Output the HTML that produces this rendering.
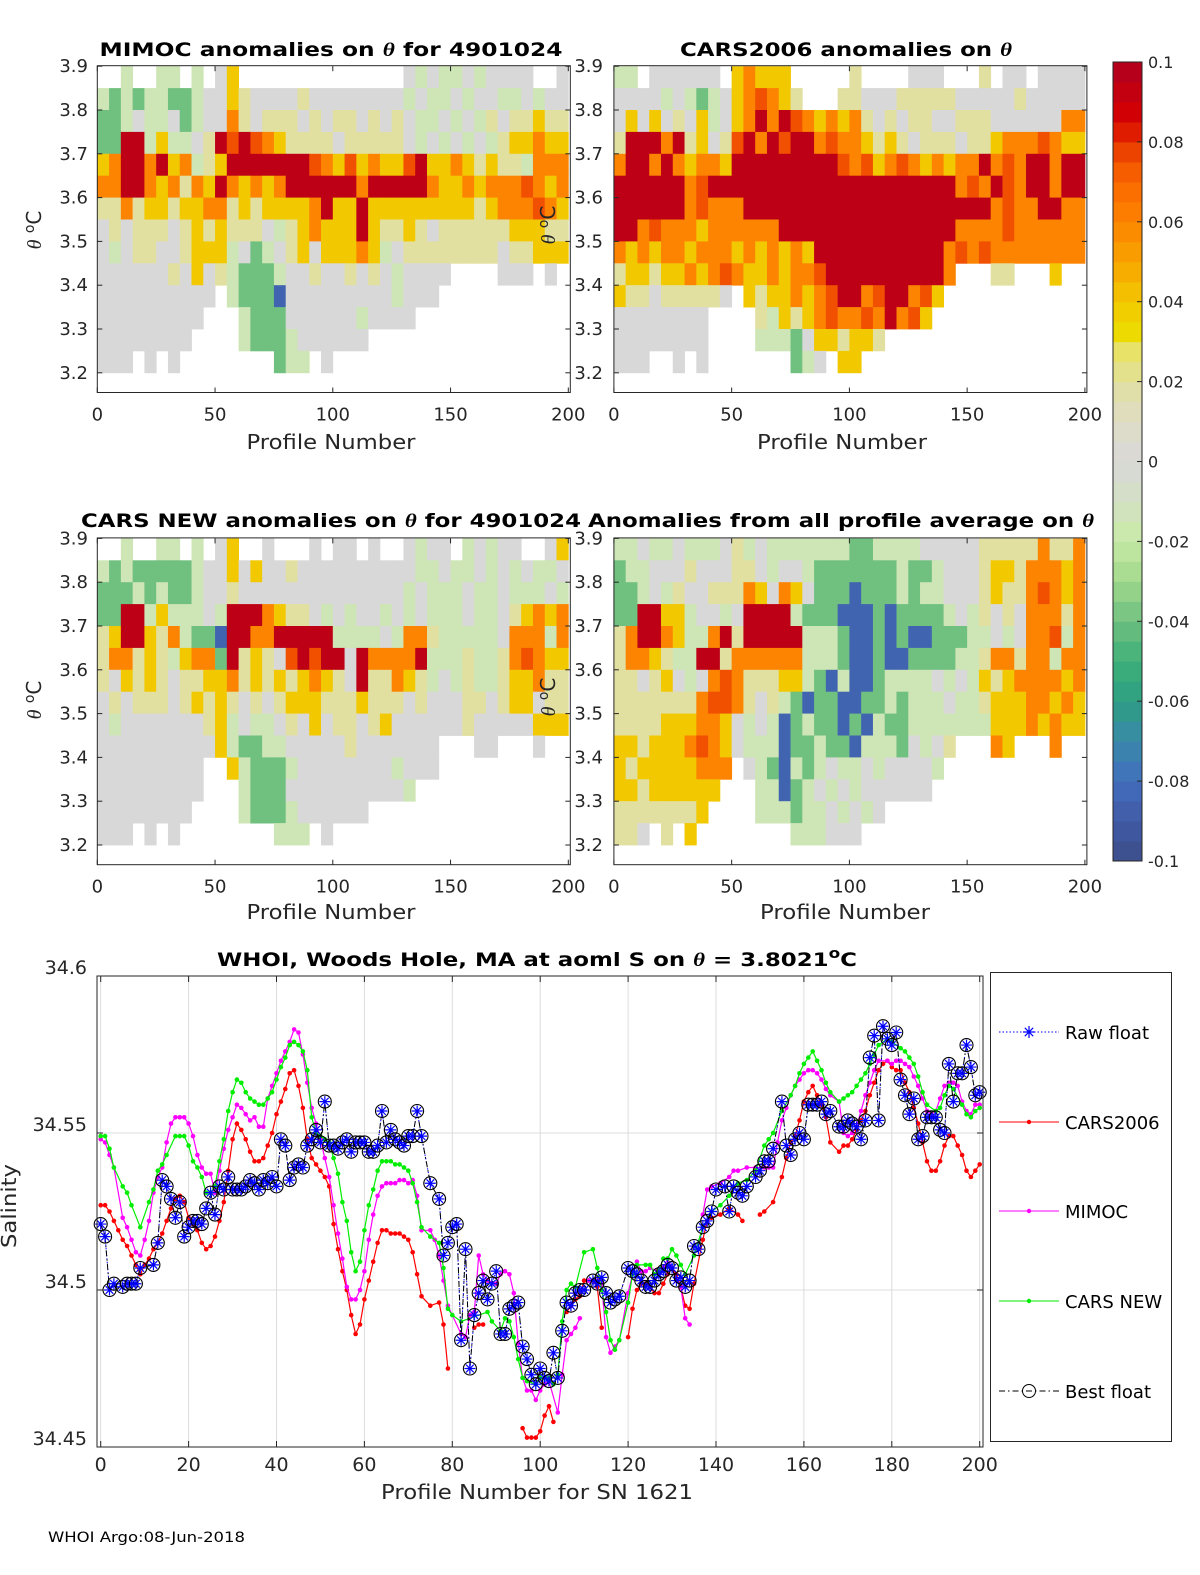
<!DOCTYPE html>
<html><head><meta charset="utf-8">
<style>
html,body{margin:0;padding:0;background:#fff;}
svg{display:block;font-family:"DejaVu Sans","Liberation Sans",sans-serif;}
</style></head>
<body>
<svg id="fig" width="1200" height="1575" viewBox="0 0 1200 1575" xmlns="http://www.w3.org/2000/svg">
<rect x="0" y="0" width="1200" height="1575" fill="#fff"/>
<g id="heat"></g>
<g id="bottom"></g>
<g id="texts" fill="#262626">
<text x="331" y="56" text-anchor="middle" font-weight="bold" font-size="19" textLength="463" lengthAdjust="spacingAndGlyphs" fill="#000">MIMOC anomalies on <tspan font-family="Liberation Serif,serif" font-style="italic">θ</tspan>  for 4901024</text>
<text x="846" y="56" text-anchor="middle" font-weight="bold" font-size="19" textLength="332" lengthAdjust="spacingAndGlyphs" fill="#000">CARS2006 anomalies on <tspan font-family="Liberation Serif,serif" font-style="italic">θ</tspan></text>
<text x="331" y="527" text-anchor="middle" font-weight="bold" font-size="19" textLength="500" lengthAdjust="spacingAndGlyphs" fill="#000">CARS NEW anomalies on <tspan font-family="Liberation Serif,serif" font-style="italic">θ</tspan> for 4901024</text>
<text x="841" y="527" text-anchor="middle" font-weight="bold" font-size="19" textLength="506" lengthAdjust="spacingAndGlyphs" fill="#000">Anomalies from all profile average on <tspan font-family="Liberation Serif,serif" font-style="italic">θ</tspan></text>
<text x="537" y="966" text-anchor="middle" font-weight="bold" font-size="19" textLength="640" lengthAdjust="spacingAndGlyphs" fill="#000">WHOI, Woods Hole, MA at aoml S on <tspan font-family="Liberation Serif,serif" font-style="italic">θ</tspan> = 3.8021<tspan dy="-8" font-size="14">o</tspan><tspan dy="8">C</tspan></text>
<text x="331" y="449" text-anchor="middle" font-size="20" textLength="169" lengthAdjust="spacingAndGlyphs">Profile Number</text>
<text x="842" y="449" text-anchor="middle" font-size="20" textLength="170" lengthAdjust="spacingAndGlyphs">Profile Number</text>
<text x="331" y="919" text-anchor="middle" font-size="20" textLength="169" lengthAdjust="spacingAndGlyphs">Profile Number</text>
<text x="845" y="919" text-anchor="middle" font-size="20" textLength="170" lengthAdjust="spacingAndGlyphs">Profile Number</text>
<text transform="translate(41,230) rotate(-90)" text-anchor="middle" font-size="20"><tspan font-family="Liberation Serif,serif" font-style="italic">θ</tspan> <tspan dy="-7" font-size="14">o</tspan><tspan dy="7">C</tspan></text>
<text transform="translate(555,225) rotate(-90)" text-anchor="middle" font-size="20"><tspan font-family="Liberation Serif,serif" font-style="italic">θ</tspan> <tspan dy="-7" font-size="14">o</tspan><tspan dy="7">C</tspan></text>
<text transform="translate(41,700) rotate(-90)" text-anchor="middle" font-size="20"><tspan font-family="Liberation Serif,serif" font-style="italic">θ</tspan> <tspan dy="-7" font-size="14">o</tspan><tspan dy="7">C</tspan></text>
<text transform="translate(555,697) rotate(-90)" text-anchor="middle" font-size="20"><tspan font-family="Liberation Serif,serif" font-style="italic">θ</tspan> <tspan dy="-7" font-size="14">o</tspan><tspan dy="7">C</tspan></text>
<text transform="translate(16,1206) rotate(-90)" text-anchor="middle" font-size="20" textLength="84" lengthAdjust="spacingAndGlyphs">Salinity</text>
<text x="537" y="1499" text-anchor="middle" font-size="20" textLength="312" lengthAdjust="spacingAndGlyphs">Profile Number for SN 1621</text>
<text x="48" y="1542" font-size="14" textLength="197" lengthAdjust="spacingAndGlyphs" fill="#000">WHOI Argo:08-Jun-2018</text>
</g>
</svg>
<script>
// ---------- heatmap data: one string per theta row (3.9 -> 3.15), 40 columns of 5 profiles ----------
const thetaTicks = [3.2,3.3,3.4,3.5,3.6,3.7,3.8,3.9];
const profileTicks = [0,50,100,150,200];
const codeValues = {B:-0.085,b:-0.06,G:-0.04,g:-0.015,'0':0,y:0.02,Y:0.04,o:0.06,O:0.075,R:0.095};
const mimocRows = [
"..g..gg.g.0Y..............0g0gg0g0000..0",
"gGgGggGGg00Yy0000y00000000g0gg0g00gg0g00",
"GGg0gg0Gg00oy0yyy0y0yy0y0y0gg0g0gy0yyYyy",
"GGRRgYgg0yROROoYyyyy0yyyyy0g0g0g0gyYYoYY",
"YoRRoRYogyYRRRRRRROoYOYoYYORYYoYyYyygooo",
"ooRRoYoyoYRoYoYoRRRRRRoRRRRRoYYoYoooOoYo",
"yyoyYYyYYooyYyYYYYoRYYRYYYYYYYYYyYoooOoY",
"0y0yyy0yYyYyyy0gyYoYYYRYyyYy0yyyyyyYYYyy",
"0g0yy00yYYYg0Gg0yY0YYYoYg0yyyyyyyy0yyYYY",
"000000y0Y0ygGGGg00y00y0y0g0000....000.0.",
"0000000000.gGGGB000000000g000...........",
"000000000...gGGG000000g0000.............",
"00000000....gGGGg000000.................",
"000.0.0........Ggg.0....................",
"........................................"];
const cars2006Rows = [
"gg.000000.YoYYY.....y....000...y.00.0000",
"0000g0gGg0YoOoYy...yy000yyyyy00000y00000",
"0Y0Y0y0Yg0YoRoROoYoYoy0y0yy00yyy000000oo",
"yRRRoRyY0yORoRORRoOooYyYy0yyy0yyYoooOoYY",
"oRRoRoYooYRRRRRRRRROoOYoOoYoYooRoOoRRoRR",
"RRRRRRoORRRRRRRRRRRRRRRRRRRRRoOoROoRRoRR",
"RRRRRRoOoooRRRRRRRRRRRRRRRRRRRRRoOooRRoo",
"RRoOoooYooooooRRRRRRRRRRRRRRRooooOoooooo",
"oYoYooYoooYoYoYoYRRRRRRRRRRRoOoOoooooooo",
"yYYyYYoYoOoYYoYooORRRRRRRRRRo...yy...Y..",
"Yyy0yyyyy0.YyYYoYoORRoORRoOY............",
"00000000....ygYyYoOooOoRoOY.............",
"00000000....gggG0YYyYYy.................",
"000..0.0.......Gg0.YY...................",
"........................................"];
const carsNewRows = [
"..g..gg.g.0Y..0...0.00.0..0g00.g0g00..0Y",
"gGgGGGGGg00Y0Y00y0000000000gg0gg0g0g0gg0",
"GGGgGgGGg00y00000000000000g0ggg0gg0ggg0g",
"GGRRgYggg0gRRRoYyy0g0g00g0g0ggg0gg0yYoYo",
"yYRRYyogGGBRRooRRRRRgggg0gooyggggg0ooogo",
"yooyYygYooGRyYy0ORORR0RooooRgggyggyoOoYY",
"y0YyYy0yyYYoyYyYyYoYy0RyyoYyg0gyggyYYoyy",
"0y0yyy0yYyYy0y0yYYYyyyYyyy0y000yy0yYY0yy",
"0g0000000yYg0gg0y0Y0yy0yY000000y00000YYY",
"0000000000YgGGgg00000y0000000...00...0..",
"000000000..YgGGGg00000000g000...........",
"000000000...gGGG0000000000g.............",
"00000000....gGGGg000000.................",
"000.0.0........ggg.0....................",
"........................................"];
const averageRows = [
"gg0gg0ggg0yg0gggggggGGgggg00000yyyyyoyyo",
"Ggg000y000yy0g00gGGGGGGGgGGg000yYYyoooYo",
"GGg0gy00yyyoY0oY0GGGBGGGgGgg000yYyyoOoYo",
"GGRRYYg00g0RRRRgGGGBBBGBGGGGg0gy0y0oooyo",
"yoRRoYggoRyRRRRRgggGBBGBGBBGGGgg0g0ooOgo",
"yooYyggRRyoooooogggGBBGBBGGGGggyooyoogoo",
"yy0yY0g0oOoyyyYYgGBgBBGgggg0g0gYyYooooYo",
"yyyyyyyoOOoy0ygGBGGBBGGgGggg0ggyYYYooYoY",
"yyyyYYYooY0g0gBGgGGBGBgGGgggggggYYYoYoYY",
"YYyYYYoOoY0gggBGGgGGBgggG0g0y...oY...o..",
"YyYYYYYooo.0gGBgGg0gg0g0000g............",
"YYyYYYYYY...ggBGg0g0g000000.............",
"yyyyyyyY....gggGgg0g0g0.................",
"yy0.y.Y........ggg000..................",
"........................................"];
const colorbarTicks = [-0.1,-0.08,-0.06,-0.04,-0.02,0,0.02,0.04,0.06,0.08,0.1];

// ---------- salinity series (profile, salinity); null = gap ----------
const greenP = [0,1,2,3,5,6,7,9,11,12,13,14,15,17,18,19,20,21,22,23,24,25,26,27,28,29,30,31,32,33,34,35,36,37,38,39,40,41,42,43,44,45,46,47,48,49,50,51,52,53,54,55,56,57,58,59,60,61,62,63,64,65,66,67,68,69,70,71,72,73,75,77,78,79,80,82,88,89,91,92,93,94,95,96,97,99,100,102,103,104,105,106,107,108,110,112,113,114,115,116,117,118,120,121,122,124,125,126,127,128,129,130,131,132,133,135,137,139,141,143,145,147,149,151,152,153,155,157,158,159,160,161,162,163,164,165,166,168,169,170,171,172,173,174,175,176,177,179,180,182,183,184,185,186,187,188,190,191,192,193,194,196,197,198,199,200];
const greenS = [34.549,34.549,34.545,34.539,34.533,34.531,34.527,34.520,34.528,34.532,34.538,34.540,34.543,34.549,34.549,34.549,34.546,34.541,34.539,34.536,34.531,34.531,34.533,34.541,34.548,34.557,34.563,34.567,34.566,34.563,34.561,34.560,34.559,34.559,34.561,34.563,34.567,34.571,34.574,34.578,34.579,34.578,34.576,34.570,34.555,34.550,34.549,34.548,34.547,34.542,34.537,34.528,34.522,34.512,34.506,34.509,34.519,34.527,34.532,34.538,34.541,34.541,34.541,34.540,34.540,34.539,34.538,34.534,34.528,34.520,34.517,34.515,34.507,34.494,34.492,34.490,34.493,34.490,34.487,34.491,34.490,34.485,34.478,34.472,34.471,34.470,34.472,34.472,34.470,34.473,34.490,34.500,34.502,34.501,34.512,34.513,34.507,34.500,34.493,34.484,34.481,34.484,34.496,34.505,34.508,34.508,34.508,34.505,34.506,34.510,34.510,34.513,34.511,34.508,34.505,34.511,34.520,34.525,34.527,34.530,34.534,34.535,34.538,34.546,34.548,34.550,34.557,34.562,34.565,34.569,34.572,34.574,34.576,34.573,34.570,34.566,34.563,34.560,34.561,34.562,34.563,34.565,34.567,34.569,34.572,34.575,34.578,34.580,34.579,34.577,34.576,34.574,34.572,34.568,34.563,34.559,34.557,34.558,34.562,34.565,34.564,34.559,34.556,34.555,34.557,34.558];

const magentaP = [0,1,2,3,5,6,7,8,9,10,11,12,13,14,15,16,17,18,19,20,21,22,23,24,25,26,27,28,29,30,31,32,33,34,35,36,37,38,39,40,41,42,43,44,45,46,47,48,49,50,51,52,53,54,55,56,57,58,59,60,61,62,63,64,65,66,67,68,69,70,71,72,73,75,76,77,78,79,82,83,84,85,86,87,88,90,91,92,93,94,95,96,97,98,99,100,101,102,104,105,106,107,108,109,110,111,113,114,115,116,117,118,120,121,122,123,124,125,127,128,129,130,131,132,133,134,135,137,138,139,141,143,144,145,147,149,151,152,153,154,155,156,157,158,159,160,161,162,163,164,165,166,168,169,170,171,172,173,174,175,176,177,179,180,181,182,183,184,185,186,187,188,189,190,191,192,193,194,195,196,197,198,199,200];
const magentaS = [34.548,34.547,34.543,34.539,34.523,34.520,34.516,34.512,34.511,34.516,34.522,34.531,34.536,34.539,34.547,34.553,34.555,34.555,34.555,34.553,34.549,34.543,34.539,34.537,34.537,34.531,34.538,34.545,34.551,34.555,34.559,34.558,34.556,34.554,34.555,34.552,34.552,34.561,34.565,34.569,34.573,34.576,34.579,34.583,34.582,34.575,34.566,34.558,34.553,34.548,34.542,34.536,34.527,34.518,34.510,34.501,34.497,34.497,34.500,34.506,34.516,34.524,34.530,34.533,34.534,34.534,34.534,34.535,34.535,34.534,34.535,34.530,34.519,34.519,34.516,34.511,34.503,34.495,34.486,34.485,34.492,34.493,34.511,34.505,34.503,34.502,34.505,34.506,34.505,34.499,34.483,34.472,34.468,34.468,34.465,34.468,34.470,34.471,34.461,34.473,34.484,34.486,34.488,34.491,null,34.503,34.503,34.502,34.485,34.480,34.482,34.484,34.499,34.505,34.509,34.506,34.506,34.507,34.506,34.507,34.510,34.507,34.503,34.501,34.491,34.489,null,34.524,34.532,34.533,34.534,34.536,34.538,34.538,34.539,34.539,34.539,34.539,34.539,34.547,34.554,34.558,34.562,34.565,34.567,34.569,34.570,34.570,34.569,34.567,34.564,34.562,34.560,34.550,34.549,34.550,34.552,34.557,34.562,34.566,34.570,34.573,34.573,34.572,34.573,34.573,34.572,34.571,34.568,34.565,34.561,34.557,34.556,34.557,34.561,34.565,34.566,34.566,34.565,34.560,34.557,34.556,34.559,34.559];

const redP = [0,1,2,3,4,5,6,7,8,9,10,11,12,13,14,15,16,17,18,19,20,21,22,23,24,25,26,27,28,29,30,31,32,33,34,35,36,37,38,39,40,41,42,43,44,45,46,47,48,49,50,51,52,53,54,55,56,57,58,59,60,61,62,63,64,65,66,67,68,69,70,71,72,73,75,77,78,79,80,85,86,87,88,96,97,98,99,100,101,102,103,104,106,107,108,109,110,111,112,113,114,115,120,121,122,123,124,125,126,127,128,129,130,131,132,133,134,135,137,138,139,141,143,145,146,147,150,151,153,155,156,157,158,159,160,161,162,163,164,165,166,168,169,170,171,172,173,174,175,176,177,178,179,180,181,182,183,184,185,186,187,188,189,190,191,192,193,194,195,196,197,198,199,200];
const redS = [34.527,34.527,34.525,34.522,34.519,34.516,34.514,34.511,34.508,34.505,34.508,34.510,34.513,34.515,34.518,34.522,34.526,34.529,34.530,34.528,34.523,34.521,34.519,34.515,34.513,34.514,34.517,34.522,34.528,34.538,34.548,34.553,34.551,34.548,34.544,34.541,34.541,34.542,34.546,34.550,34.556,34.560,34.564,34.569,34.570,34.565,34.558,34.548,34.542,34.540,34.538,34.536,34.533,34.521,34.513,34.506,34.500,34.492,34.486,34.489,34.497,34.503,34.509,34.515,34.519,34.519,34.518,34.518,34.518,34.517,34.516,34.512,34.505,34.498,34.495,34.496,34.489,34.475,null,34.488,34.489,34.489,null,34.456,34.453,34.453,34.453,34.455,34.460,34.463,34.458,null,34.493,34.495,34.497,34.498,34.503,34.503,34.503,34.501,34.488,null,34.485,34.494,34.500,34.502,34.502,34.501,34.499,34.499,34.502,34.505,34.507,34.505,34.501,34.495,34.494,34.502,34.516,34.522,34.523,34.524,34.526,34.524,34.522,null,34.524,34.525,34.528,34.536,34.542,34.547,34.549,34.554,34.560,34.563,34.565,34.562,34.559,34.555,34.547,34.544,34.546,34.546,34.548,34.551,34.554,34.557,34.562,34.566,34.570,34.572,34.573,34.571,34.570,34.570,34.566,34.563,34.558,34.553,34.547,34.541,34.538,34.538,34.541,34.546,34.549,34.549,34.546,34.543,34.538,34.536,34.538,34.540];

const floatP = [0,1,2,3,5,6,7,8,9,12,13,14,15,16,17,18,19,20,21,22,23,24,25,26,27,28,29,30,31,32,33,34,35,36,37,38,39,40,41,42,43,44,45,46,47,48,49,50,51,52,53,54,55,56,57,58,59,60,61,62,63,64,65,66,67,68,69,70,71,72,73,75,77,78,79,80,81,82,83,84,85,86,87,88,89,90,91,92,93,94,95,96,97,98,99,100,101,102,103,104,105,106,107,108,109,110,112,113,114,115,116,117,118,120,121,122,123,124,125,126,127,128,129,130,131,132,133,134,135,136,137,138,139,140,142,143,144,145,146,147,149,150,151,152,153,155,156,157,158,159,160,161,162,163,164,165,166,168,169,170,171,172,173,174,175,176,177,178,179,180,181,182,183,184,185,186,187,188,189,190,191,192,193,194,195,196,197,198,199,200];
const floatS = [34.521,34.517,34.500,34.502,34.501,34.502,34.502,34.502,34.507,34.508,34.515,34.535,34.533,34.529,34.523,34.528,34.517,34.520,34.522,34.522,34.521,34.526,34.531,34.524,34.533,34.532,34.536,34.532,34.532,34.532,34.533,34.535,34.534,34.532,34.535,34.534,34.536,34.533,34.548,34.546,34.535,34.539,34.540,34.539,34.546,34.548,34.551,34.547,34.560,34.546,34.546,34.545,34.547,34.548,34.544,34.547,34.547,34.547,34.544,34.544,34.546,34.557,34.547,34.551,34.548,34.547,34.546,34.549,34.549,34.557,34.549,34.534,34.529,34.511,34.515,34.520,34.521,34.484,34.513,34.475,34.492,34.499,34.503,34.497,34.502,34.506,34.486,34.486,34.494,34.495,34.496,34.482,34.478,34.473,34.470,34.475,34.472,34.471,34.480,34.472,34.487,34.496,34.495,34.499,34.500,34.500,34.503,34.502,34.504,34.499,34.496,34.497,34.498,34.507,34.506,34.505,34.503,34.501,34.501,34.503,34.505,34.506,34.508,34.507,34.503,34.504,34.501,34.503,34.514,34.513,34.520,34.522,34.525,34.532,34.533,34.525,34.533,34.531,34.530,34.533,34.536,34.538,34.541,34.541,34.545,34.560,34.546,34.543,34.548,34.550,34.548,34.559,34.559,34.559,34.560,34.556,34.557,34.552,34.552,34.554,34.553,34.552,34.548,34.554,34.574,34.581,34.554,34.584,34.580,34.578,34.582,34.567,34.562,34.556,34.561,34.548,34.549,34.555,34.555,34.555,34.551,34.550,34.572,34.560,34.569,34.569,34.578,34.571,34.562,34.563];
const salTicks = [34.45,34.5,34.55,34.6];
const salXTicks = [0,20,40,60,80,100,120,140,160,180,200];

// ---------- helpers ----------
const NS = 'http://www.w3.org/2000/svg';
function mk(tag, attrs, parent){
  const e = document.createElementNS(NS, tag);
  for (const k in attrs) e.setAttribute(k, attrs[k]);
  if (parent) parent.appendChild(e);
  return e;
}
const stops = [[-0.1,[60,76,136]],[-0.09,[64,90,165]],[-0.08,[66,110,190]],[-0.07,[56,136,170]],[-0.06,[46,158,130]],[-0.05,[62,176,120]],[-0.04,[112,192,128]],[-0.03,[160,216,140]],[-0.02,[200,234,165]],[-0.01,[212,224,196]],[0,[216,216,216]],[0.01,[222,220,196]],[0.02,[226,224,160]],[0.028,[232,226,100]],[0.03,[234,224,0]],[0.04,[242,200,0]],[0.05,[248,164,0]],[0.06,[252,132,0]],[0.07,[250,104,0]],[0.08,[232,56,0]],[0.085,[214,0,0]],[0.1,[176,0,32]]];
function cmap(v){
  v = Math.max(-0.1, Math.min(0.1, v));
  for (let i=0;i<stops.length-1;i++){
    const a=stops[i], b=stops[i+1];
    if (v>=a[0] && v<=b[0]){
      const t=(v-a[0])/(b[0]-a[0]);
      const c=a[1].map((x,j)=>Math.round(x+(b[1][j]-x)*t));
      return 'rgb('+c.join(',')+')';
    }
  }
  return 'rgb(176,0,32)';
}

// ---------- heatmap panels ----------
const heat = document.getElementById('heat');
const panels = [
  {name:'mimoc', rows:mimocRows, x0:97.3, y0:66.2, lab:88},
  {name:'cars2006', rows:cars2006Rows, x0:613.9, y0:66.2, lab:603},
  {name:'cars-new', rows:carsNewRows, x0:97.3, y0:538.4, lab:88},
  {name:'average', rows:averageRows, x0:613.9, y0:538.4, lab:603}
];
const PXP = 2.355, PXT = 438, PW = 473, THMIN = 3.155;
panels.forEach(pn=>{
  const xs = p => pn.x0 + p*PXP;
  const ys = th => pn.y0 + (3.9-th)*PXT;
  const g = mk('g', {}, heat);
  
  
  pn.rows.forEach((row, r)=>{
    const thTop = 3.9 - 0.05*r;
    const thBot = Math.max(THMIN, thTop - 0.05);
    for (let k=0;k<40;k++){
      const ch = row[k];
      if (!ch || ch==='.' || codeValues[ch]===undefined) continue;
      const x1 = xs(5*k), x2 = xs(Math.min(5*k+5, 200.8));
      const cell = mk('rect', {x:x1.toFixed(2), y:ys(thTop).toFixed(2), width:(x2-x1+0.4).toFixed(2), height:(ys(thBot)-ys(thTop)+0.4).toFixed(2), fill:cmap(codeValues[ch])}, g);
      
      
    }
  });
  const box = mk('rect', {x:pn.x0, y:pn.y0-0.5, width:PW, height:(ys(THMIN)-pn.y0+0.5).toFixed(1), fill:'none', stroke:'#262626', 'stroke-width':1}, heat);
  
  
  const bottom = ys(THMIN);
  thetaTicks.forEach(t=>{
    const y = ys(t);
    mk('line', {x1:pn.x0, x2:pn.x0+5, y1:y, y2:y, stroke:'#262626'}, heat);
    mk('line', {x1:pn.x0+PW-5, x2:pn.x0+PW, y1:y, y2:y, stroke:'#262626'}, heat);
    const tx = mk('text', {x:pn.lab, y:y+6, 'text-anchor':'end', 'font-size':18, fill:'#262626'}, heat);
    
    
    tx.textContent = t.toFixed(1);
  });
  profileTicks.forEach(p=>{
    const x = xs(p);
    mk('line', {x1:x, x2:x, y1:bottom, y2:bottom-5, stroke:'#262626'}, heat);
    mk('line', {x1:x, x2:x, y1:pn.y0, y2:pn.y0+5, stroke:'#262626'}, heat);
    const tx = mk('text', {x:x, y:bottom+28, 'text-anchor':'middle', 'font-size':18, fill:'#262626'}, heat);
    
    
    tx.textContent = p;
  });
});

// ---------- colorbar ----------
const CBX = 1113, CBW = 29, CBT = 62, CBB = 861;
const cbY = v => CBB - (v+0.1)/0.2*(CBB-CBT);
const cbg = mk('g', {}, heat);


for (let i=0;i<40;i++){
  const v0 = -0.1 + i*0.005;
  mk('rect', {x:CBX, y:cbY(v0+0.005).toFixed(2), width:CBW, height:((CBB-CBT)/40+0.5).toFixed(2), fill:cmap(v0+0.0025)}, cbg);
}
mk('rect', {x:CBX, y:CBT, width:CBW, height:CBB-CBT, fill:'none', stroke:'#262626'}, cbg);
colorbarTicks.forEach(v=>{
  const y = cbY(v);
  mk('line', {x1:CBX+CBW-5, x2:CBX+CBW, y1:y, y2:y, stroke:'#262626'}, cbg);
  const tx = mk('text', {x:1148, y:y+6, 'font-size':16, fill:'#262626'}, cbg);
  
  
  tx.textContent = (Math.abs(v)<1e-9) ? '0' : String(+v.toFixed(2));
});

// ---------- salinity chart ----------
const bot = document.getElementById('bottom');
const BX0 = 97, BX1 = 983, BY0 = 976, BY1 = 1447;
const sx = p => 100.7 + p*4.395;
const sy = s => 976 + (34.6 - s)*3140;
salXTicks.forEach(p=>{
  const x = sx(p);
  mk('line', {x1:x, x2:x, y1:BY0, y2:BY1, stroke:'#dcdcdc'}, bot);
  mk('line', {x1:x, x2:x, y1:BY1, y2:BY1-6, stroke:'#262626'}, bot);
  mk('line', {x1:x, x2:x, y1:BY0, y2:BY0+6, stroke:'#262626'}, bot);
  const tx = mk('text', {x:x, y:BY1+24, 'text-anchor':'middle', 'font-size':19, fill:'#262626'}, bot);
  
  
  tx.textContent = p;
});
salTicks.forEach(s=>{
  const y = sy(s);
  mk('line', {x1:BX0, x2:BX1, y1:y, y2:y, stroke:'#dcdcdc'}, bot);
  mk('line', {x1:BX0, x2:BX0+6, y1:y, y2:y, stroke:'#262626'}, bot);
  mk('line', {x1:BX1-6, x2:BX1, y1:y, y2:y, stroke:'#262626'}, bot);
  const tx = mk('text', {x:87, y:y-2, 'text-anchor':'end', 'font-size':19, fill:'#262626'}, bot);
  
  
  tx.textContent = String(s);
});
function pathFrom(P, S){
  let d = '', pen = false;
  for (let i=0;i<P.length;i++){
    if (S[i]===null){ pen=false; continue; }
    d += (pen?'L':'M') + sx(P[i]).toFixed(1) + ' ' + sy(S[i]).toFixed(1);
    pen = true;
  }
  return d;
}
function dotSeries(name, P, S, color){
  const g = mk('g', {}, bot);
  
  
  mk('path', {d:pathFrom(P,S), fill:'none', stroke:color, 'stroke-width':1.2}, g);
  for (let i=0;i<P.length;i++){
    if (S[i]===null) continue;
    const c = mk('circle', {cx:sx(P[i]).toFixed(1), cy:sy(S[i]).toFixed(1), r:2.3, fill:color}, g);
    
    
  }
}
dotSeries('cars2006-series', redP, redS, '#ff0000');
dotSeries('mimoc-series', magentaP, magentaS, '#ff00ff');
dotSeries('cars-new-series', greenP, greenS, '#00ee00');
const fg = mk('g', {}, bot);


mk('path', {d:pathFrom(floatP,floatS), fill:'none', stroke:'#0000ff', 'stroke-width':1, 'stroke-dasharray':'1.5 2'}, fg);
mk('path', {d:pathFrom(floatP,floatS), fill:'none', stroke:'#000', 'stroke-width':1, 'stroke-dasharray':'6 3 1.5 3'}, fg);
function starMarker(parent, x, y, r){
  const d = `M${x-r} ${y}L${x+r} ${y}M${x} ${y-r}L${x} ${y+r}M${x-r*0.7} ${y-r*0.7}L${x+r*0.7} ${y+r*0.7}M${x-r*0.7} ${y+r*0.7}L${x+r*0.7} ${y-r*0.7}`;
  return mk('path', {d:d, stroke:'#0000ff', 'stroke-width':1.2, fill:'none'}, parent);
}
for (let i=0;i<floatP.length;i++){
  const x = sx(floatP[i]), y = sy(floatS[i]);
  const c = mk('circle', {cx:x.toFixed(1), cy:y.toFixed(1), r:6.5, fill:'none', stroke:'#000', 'stroke-width':1.1}, fg);
  
  
  const s = starMarker(fg, x, y, 5.5);
  
  
}
const sbox = mk('rect', {x:BX0, y:BY0, width:BX1-BX0, height:BY1-BY0, fill:'none', stroke:'#262626'}, bot);



// ---------- legend ----------
const lg = mk('g', {}, bot);


mk('rect', {x:990.5, y:972.5, width:181, height:469, fill:'#fff', stroke:'#262626'}, lg);
const legendNames = ['Raw float','CARS2006','MIMOC','CARS NEW','Best float'];
const legendY = [1032,1122,1211,1301,1391];
legendNames.forEach((nm,i)=>{
  const y = legendY[i];
  const e = mk('g', {}, lg);
  
  
  if (i===0){
    mk('line', {x1:999, x2:1059, y1:y, y2:y, stroke:'#0000ff', 'stroke-dasharray':'1.5 2'}, e);
    starMarker(e, 1029, y, 6);
  } else if (i===4){
    mk('line', {x1:999, x2:1059, y1:y, y2:y, stroke:'#000', 'stroke-dasharray':'6 3 1.5 3'}, e);
    mk('circle', {cx:1029, cy:y, r:6.5, fill:'none', stroke:'#000'}, e);
  } else {
    const col = ['', '#ff0000', '#ff00ff', '#00ee00'][i];
    mk('line', {x1:999, x2:1059, y1:y, y2:y, stroke:col}, e);
    mk('circle', {cx:1029, cy:y, r:2.2, fill:col}, e);
  }
  const t = mk('text', {x:1065, y:y+7, 'font-size':18, fill:'#000'}, e);
  t.textContent = nm;
});
</script>
</body></html>
